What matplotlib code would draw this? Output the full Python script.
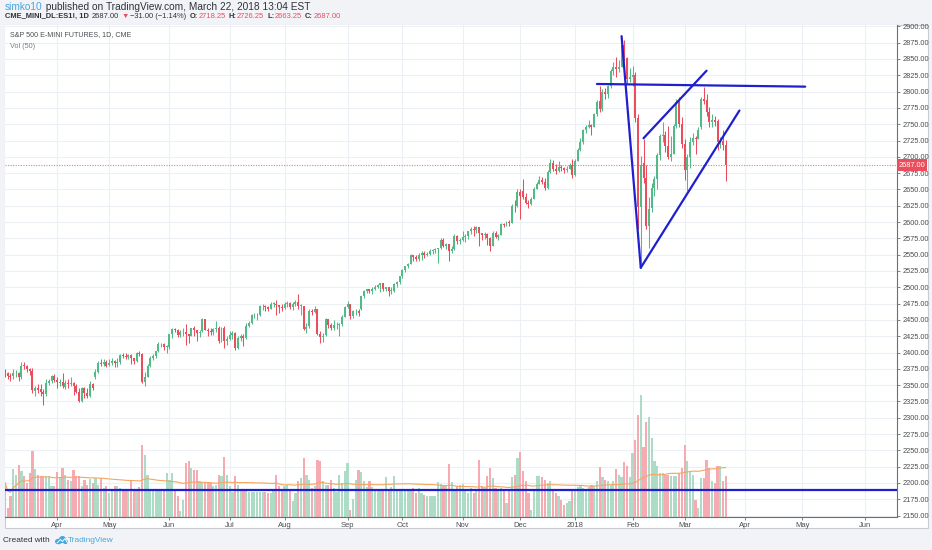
import numpy as np
import pandas as pd
import matplotlib
matplotlib.use("Agg")
import matplotlib.pyplot as plt
import matplotlib.transforms as mtransforms
from matplotlib.patches import Rectangle, Ellipse, Polygon

# ------------------------------------------------------------------ data
# daily bars ES1! (S&P 500 E-mini), 2017-03-06 .. 2018-03-22
opens = [
    2375, 2371, 2368, 2364, 2364, 2368, 2369, 2362, 2381, 2379, 2374, 2372, 2341, 2345, 2344, 2340, 2337, 2354, 2357, 2364,
    2358, 2354, 2355, 2347, 2353, 2351, 2353, 2348, 2340, 2326, 2345, 2338, 2334, 2352, 2362, 2370, 2384, 2383, 2385,
    2381, 2384, 2387, 2384, 2386, 2396, 2395, 2393, 2396, 2391, 2387, 2399, 2398, 2355, 2363, 2379, 2391, 2395, 2402, 2413, 2413, 2409,
    2409, 2428, 2436, 2434, 2427, 2431, 2432, 2429, 2426, 2437, 2435, 2430, 2433, 2451, 2435, 2433, 2432, 2436, 2437, 2418, 2438, 2417,
    2421, 2427, 2430, 2407, 2423, 2425, 2423, 2441, 2445, 2457, 2457, 2458, 2471, 2471, 2470, 2467, 2475, 2475, 2473, 2470,
    2468, 2474, 2476, 2470, 2474, 2478, 2472, 2472, 2436, 2440, 2464, 2462, 2466, 2428, 2424, 2427, 2451, 2442, 2437, 2442, 2442, 2444, 2455,
    2470, 2474, 2456, 2463, 2463, 2466, 2486, 2495, 2497, 2494, 2498, 2501, 2504, 2506, 2498, 2500, 2495, 2495, 2505, 2508,
    2517, 2527, 2532, 2535, 2550, 2547, 2543, 2549, 2553, 2549, 2551, 2556, 2557, 2559, 2560, 2573, 2563, 2567, 2555, 2558, 2579, 2571,
    2573, 2577, 2578, 2586, 2589, 2588, 2592, 2583, 2580, 2582, 2576, 2563, 2584, 2577, 2580, 2597, 2595, 2600, 2599, 2625, 2624,
    2646, 2648, 2638, 2629, 2628, 2636, 2651, 2659, 2664, 2662, 2652, 2676, 2690, 2681, 2679, 2684, 2683, 2680, 2682, 2688,
    2672, 2694, 2711, 2722, 2741, 2746, 2749, 2746, 2765, 2786, 2774, 2800, 2796, 2808, 2831, 2837, 2835, 2837, 2871, 2851, 2820,
    2822, 2826, 2759, 2623, 2690, 2667, 2594, 2622, 2652, 2666, 2703, 2732, 2733, 2716, 2700, 2705, 2748, 2784, 2750,
    2720, 2680, 2700, 2722, 2729, 2727, 2745, 2789, 2787, 2769, 2754, 2756, 2755, 2721, 2725, 2718.25,
]
highs = [
    2380, 2374, 2370, 2368, 2374, 2373, 2370, 2385, 2386, 2381, 2376, 2377, 2348, 2352, 2352, 2344, 2360, 2360, 2366, 2367,
    2362, 2359, 2369, 2358, 2359, 2362, 2355, 2351, 2345, 2347, 2347, 2346, 2356, 2354, 2374, 2387, 2390, 2390, 2389,
    2390, 2391, 2389, 2391, 2398, 2400, 2399, 2398, 2397, 2392, 2401, 2402, 2399, 2370, 2383, 2394, 2398, 2403, 2416, 2415, 2414, 2411,
    2429, 2438, 2438, 2436, 2435, 2437, 2444, 2429, 2438, 2440, 2431, 2434, 2453, 2452, 2438, 2437, 2438, 2448, 2440, 2439, 2440, 2425,
    2433, 2433, 2431, 2426, 2429, 2428, 2446, 2448, 2459, 2461, 2460, 2473, 2475, 2473, 2472, 2478, 2477, 2481, 2473, 2474,
    2477, 2479, 2477, 2477, 2480, 2489, 2475, 2472, 2445, 2467, 2467, 2472, 2467, 2433, 2430, 2453, 2450, 2446, 2450, 2447, 2446, 2458, 2472,
    2479, 2475, 2465, 2467, 2466, 2487, 2496, 2498, 2498, 2500, 2504, 2505, 2507, 2506, 2501, 2500, 2500, 2507, 2509, 2518,
    2528, 2533, 2537, 2551, 2550, 2549, 2553, 2555, 2555, 2554, 2558, 2559, 2561, 2561, 2575, 2576, 2568, 2567, 2564, 2582, 2580, 2575,
    2586, 2582, 2587, 2592, 2594, 2594, 2593, 2584, 2585, 2583, 2577, 2587, 2586, 2582, 2599, 2599, 2602, 2603, 2628, 2634, 2651,
    2651, 2666, 2645, 2634, 2639, 2653, 2661, 2670, 2669, 2668, 2680, 2697, 2695, 2689, 2693, 2688, 2684, 2686, 2690, 2696,
    2697, 2714, 2729, 2743, 2749, 2757, 2750, 2767, 2787, 2808, 2804, 2805, 2810, 2834, 2845, 2853, 2848, 2874, 2879, 2853, 2836,
    2839, 2830, 2766, 2702, 2728, 2687, 2638, 2660, 2670, 2706, 2735, 2754, 2740, 2747, 2732, 2750, 2789, 2791, 2761,
    2727, 2705, 2730, 2737, 2732, 2745, 2792, 2807, 2796, 2776, 2766, 2762, 2758, 2731, 2741, 2726.25,
]
lows = [
    2366, 2363, 2360, 2356, 2360, 2363, 2357, 2360, 2374, 2370, 2366, 2338, 2334, 2338, 2333, 2319, 2334, 2350, 2354, 2355,
    2346, 2348, 2345, 2344, 2345, 2349, 2335, 2338, 2324, 2324, 2331, 2330, 2332, 2342, 2359, 2369, 2380, 2379, 2378,
    2380, 2381, 2378, 2378, 2383, 2391, 2390, 2390, 2383, 2383, 2386, 2394, 2354, 2348, 2362, 2378, 2389, 2392, 2401, 2408, 2404, 2399,
    2406, 2423, 2431, 2424, 2424, 2426, 2412, 2414, 2425, 2425, 2418, 2424, 2431, 2434, 2426, 2427, 2427, 2432, 2414, 2416, 2407, 2411,
    2419, 2421, 2404, 2405, 2418, 2410, 2421, 2439, 2443, 2453, 2450, 2456, 2465, 2464, 2463, 2466, 2470, 2457, 2461, 2464,
    2466, 2470, 2467, 2465, 2472, 2466, 2458, 2434, 2430, 2438, 2457, 2460, 2427, 2415, 2416, 2426, 2438, 2434, 2434, 2436, 2425, 2441, 2454,
    2468, 2452, 2453, 2457, 2456, 2465, 2483, 2492, 2491, 2490, 2496, 2499, 2493, 2495, 2494, 2487, 2490, 2493, 2500, 2505,
    2515, 2524, 2530, 2535, 2540, 2541, 2541, 2542, 2545, 2548, 2550, 2551, 2553, 2537, 2558, 2562, 2558, 2541, 2553, 2557, 2567, 2567,
    2571, 2569, 2574, 2581, 2579, 2584, 2564, 2572, 2574, 2565, 2555, 2563, 2576, 2573, 2580, 2592, 2594, 2594, 2599, 2616, 2623,
    2604, 2636, 2627, 2622, 2626, 2635, 2650, 2658, 2659, 2649, 2650, 2675, 2678, 2673, 2677, 2678, 2675, 2677, 2681, 2668,
    2670, 2693, 2709, 2720, 2737, 2744, 2734, 2746, 2763, 2768, 2770, 2789, 2790, 2805, 2826, 2823, 2830, 2837, 2847, 2813, 2814,
    2808, 2754, 2590, 2532, 2660, 2590, 2560, 2615, 2640, 2650, 2695, 2722, 2707, 2697, 2694, 2705, 2744, 2745, 2713,
    2665, 2648, 2683, 2718, 2705, 2727, 2742, 2781, 2762, 2745, 2745, 2748, 2710, 2713, 2711, 2663.25,
]
closes = [
    2372, 2368, 2364, 2363, 2368, 2369, 2362, 2380, 2379, 2374, 2372, 2342, 2345, 2343, 2340, 2337, 2354, 2357, 2364, 2358,
    2355, 2355, 2348, 2353, 2351, 2353, 2349, 2340, 2325, 2345, 2338, 2334, 2352, 2345, 2370, 2384, 2383, 2385, 2380,
    2384, 2387, 2384, 2386, 2396, 2395, 2393, 2396, 2391, 2387, 2399, 2398, 2355, 2363, 2379, 2391, 2395, 2402, 2413, 2413, 2409, 2409,
    2428, 2436, 2434, 2427, 2431, 2432, 2429, 2426, 2437, 2435, 2430, 2431, 2451, 2435, 2433, 2432, 2436, 2437, 2417, 2438, 2417, 2421,
    2427, 2430, 2407, 2423, 2425, 2423, 2441, 2445, 2457, 2457, 2458, 2471, 2471, 2470, 2467, 2475, 2475, 2473, 2470, 2468,
    2474, 2476, 2470, 2474, 2478, 2472, 2472, 2436, 2439, 2464, 2462, 2466, 2428, 2424, 2426, 2451, 2442, 2437, 2442, 2442, 2444, 2455, 2470,
    2475, 2456, 2463, 2463, 2460, 2486, 2495, 2497, 2494, 2498, 2501, 2504, 2506, 2498, 2500, 2495, 2495, 2505, 2508, 2517,
    2527, 2532, 2535, 2550, 2547, 2543, 2549, 2553, 2549, 2551, 2556, 2557, 2559, 2560, 2573, 2563, 2567, 2555, 2558, 2579, 2571, 2573,
    2577, 2578, 2586, 2589, 2588, 2592, 2583, 2580, 2582, 2576, 2563, 2584, 2577, 2580, 2597, 2595, 2600, 2599, 2625, 2624, 2646,
    2640, 2638, 2629, 2628, 2636, 2651, 2659, 2664, 2662, 2652, 2676, 2690, 2681, 2679, 2684, 2683, 2680, 2682, 2688, 2672,
    2694, 2711, 2722, 2741, 2746, 2749, 2746, 2765, 2784, 2774, 2800, 2796, 2808, 2831, 2837, 2835, 2837, 2871, 2851, 2820, 2822,
    2826, 2759, 2623, 2688, 2667, 2594, 2620, 2652, 2666, 2703, 2732, 2733, 2716, 2700, 2705, 2748, 2784, 2750, 2720,
    2680, 2700, 2722, 2729, 2727, 2741, 2789, 2786, 2769, 2754, 2756, 2754, 2722, 2725, 2718, 2687.00,
]
# volume (arbitrary units, ~45k contracts per unit)
volumes = [
    36, 34, 9, 21, 48, 42, 52, 46, 41, 34, 44, 66, 48, 42, 41, 41, 41, 41, 31, 31,
    45, 39, 49, 42, 37, 36, 47, 41, 41, 31, 37, 32, 38, 34, 39, 32, 39, 29, 31,
    24, 26, 31, 31, 29, 26, 27, 28, 36, 28, 27, 30, 72, 62, 42, 27, 27, 27, 27, 27, 26, 44,
    37, 44, 27, 21, 6, 17, 54, 56, 49, 47, 47, 36, 34, 34, 34, 34, 31, 32, 42, 41, 60, 42,
    31, 25, 41, 32, 27, 27, 27, 25, 25, 25, 25, 25, 25, 25, 24, 24, 27, 42, 31, 27,
    31, 32, 27, 16, 24, 36, 39, 59, 42, 37, 29, 31, 57, 56, 36, 32, 32, 37, 29, 25, 42, 34, 46,
    54, 7, 18, 37, 47, 45, 36, 30, 36, 30, 27, 27, 27, 27, 40, 28, 30, 41, 27, 27,
    27, 26, 26, 26, 29, 24, 29, 24, 22, 21, 21, 21, 21, 35, 33, 32, 31, 53, 35, 27, 31, 32,
    33, 27, 24, 29, 24, 28, 57, 31, 29, 41, 49, 39, 29, 27, 29, 27, 14, 26, 40, 42, 59,
    65, 46, 36, 24, 7, 27, 41, 41, 40, 37, 34, 36, 26, 24, 21, 17, 12, 14, 16, 27,
    27, 30, 31, 29, 28, 30, 32, 31, 36, 50, 40, 37, 36, 32, 36, 48, 42, 40, 55, 51, 40,
    64, 77, 102, 122, 70, 95, 100, 79, 56, 51, 44, 44, 42, 42, 41, 41, 41, 44, 49,
    72, 56, 46, 42, 17, 9, 39, 39, 57, 49, 36, 34, 51, 51, 36, 41,
]
first_date = "2017-03-06"
last_date = "2018-03-22"
future_end = "2018-07-06"
holidays = ["2017-04-14", "2017-05-29", "2017-07-04", "2017-09-04", "2017-11-23",
            "2017-12-25", "2018-01-01", "2018-01-15", "2018-02-19"]

price_ticks = list(range(2150, 2901, 25))
price_min, price_max = 2147.4, 2902.1
bar_min, bar_max = 1.0, 326.5
last_price = 2687.00
vol_ma_len = 50

# user drawings: (start date, start price, end date, end price)
trend_lines = [
    ("2018-01-26", 2885.0, "2018-02-06", 2530.0),
    ("2018-02-06", 2530.0, "2018-03-29", 2771.0),
    ("2018-02-07", 2728.5, "2018-03-13", 2832.0),
    ("2018-01-12", 2811.7, "2018-05-02", 2807.6),
]
horizontal_level = 2189.4

header1_user = "simko10"
header1_rest = " published on TradingView.com, March 22, 2018 13:04 EST"
symbol_txt = "CME_MINI_DL:ES1!, 1D"
last_txt = "2687.00"
change_txt = "\u221231.00 (\u22121.14%)"
ohlc_txt = [("O:", "2718.25"), ("H:", "2726.25"), ("L:", "2663.25"), ("C:", "2687.00")]
title_txt = "S&P 500 E-MINI FUTURES, 1D, CME"
vol_txt = "Vol (50)"

# ------------------------------------------------------------------ style
W, H = 932, 550
UP, DN = "#53b987", "#eb4d5c"
VUP, VDN = "#acdcc5", "#f6abb3"
BLUE = "#1f1fd0"
MA_COL = "#f5a560"
GRID = "#eceff3"
BG = "#f1f3f7"
FONT = ["Liberation Sans", "DejaVu Sans"]
plt.rcParams["font.family"] = FONT

o = np.array(opens, float); h = np.array(highs, float)
l = np.array(lows, float); c = np.array(closes, float)
vol = np.array(volumes, float)
assert len(o) == len(h) == len(l) == len(c) == len(vol)

past = pd.bdate_range(first_date, last_date)
past = past[~past.isin(pd.to_datetime(holidays))]
assert len(past) == len(c), (len(past), len(c))
future = pd.bdate_range(pd.Timestamp(last_date) + pd.Timedelta(days=1), future_end)
dates = past.append(future)
pos = {d: i for i, d in enumerate(dates)}

fig = plt.figure(figsize=(W / 100, H / 100), dpi=100, facecolor=BG)

def fx(px):
    return px / W

def fy(py):
    return 1 - py / H

# chart widget frame
fig.add_artist(Rectangle((fx(4.5), fy(528)), fx(927.5) - fx(4.5), fy(25) - fy(528),
                         transform=fig.transFigure, facecolor="white",
                         edgecolor="#c9cdd3", lw=0.8, zorder=0))

ax = fig.add_axes([fx(5), fy(517.3), fx(897) - fx(5), fy(25) - fy(517.3)])
ax.set_facecolor("white")
ax.set_zorder(1)
x = np.arange(len(c))

# grid
ax.set_axisbelow(True)
ax.grid(True, color=GRID, lw=0.8)

# volume (overlay, scaled so that max bar fills ~25% of pane)
vol_top = vol.max() / 0.248
vol_trans = mtransforms.blended_transform_factory(
    ax.transData, mtransforms.Affine2D().scale(1, 1 / vol_top) + ax.transAxes)
up = c >= o
ax.bar(x, vol, width=0.8, bottom=0, color=np.where(up, VUP, VDN), lw=0,
       transform=vol_trans, zorder=1)
vol_ma = pd.Series(vol).rolling(vol_ma_len, min_periods=1).mean().values
ax.plot(x, vol_ma, color=MA_COL, lw=0.8, transform=vol_trans, zorder=1.5)

# last price line
ax.axhline(last_price, color=DN, lw=0.8, ls=(0, (1, 1.3)), alpha=0.75, zorder=1.6)

# candles
cols = np.where(up, UP, DN)
ax.vlines(x, l, h, colors=cols, lw=0.75, zorder=3)
ax.bar(x, np.maximum(np.abs(c - o), 0.8), bottom=np.minimum(o, c), width=0.72,
       color=cols, lw=0, zorder=3.1)

# drawings
for d1, p1, d2, p2 in trend_lines:
    ax.plot([pos[pd.Timestamp(d1)], pos[pd.Timestamp(d2)]], [p1, p2],
            color=BLUE, lw=1.6, solid_capstyle="round", zorder=4)
ax.axhline(horizontal_level, color=BLUE, lw=1.6, zorder=4)

# axes / ticks
for s in ("top", "left"):
    ax.spines[s].set_visible(False)
for s in ("right", "bottom"):
    ax.spines[s].set_color("#6b6f76")
    ax.spines[s].set_linewidth(0.8)
ax.yaxis.tick_right()
ax.set_yticks(price_ticks)
ax.set_yticklabels([f"{v:.2f}" for v in price_ticks])
ax.tick_params(axis="y", labelsize=5.3, colors="#6b6f76", labelcolor="#4a4d52",
               length=2.5, width=0.6, pad=1.5)

month_pos, month_lab = [], []
prev = None
for i, d in enumerate(dates):
    key = (d.year, d.month)
    if key != prev:
        prev = key
        if bar_min <= i <= bar_max:
            month_pos.append(i)
            month_lab.append(str(d.year) if d.month == 1 else d.strftime("%b"))
ax.set_xticks(month_pos)
ax.set_xticklabels(month_lab)
ax.tick_params(axis="x", labelsize=5.5, colors="#6b6f76", labelcolor="#4a4d52",
               length=2, width=0.6, pad=1.5)

ax.set_xlim(bar_min, bar_max)
ax.set_ylim(price_min, price_max)

# last price label on the price scale
lbl_trans = mtransforms.blended_transform_factory(ax.transAxes, ax.transData)
box_w = (927 - 897) / (897 - 5)
box_h = 12 / ((517.3 - 25) / (price_max - price_min))
ax.add_patch(Rectangle((1.0, last_price - box_h / 2), box_w, box_h, transform=lbl_trans,
                       facecolor=DN, edgecolor="none", clip_on=False, zorder=9))
ax.text(1.0 + box_w / 2, last_price, f"{last_price:.2f}", transform=lbl_trans,
        ha="center", va="center", fontsize=5.3, color="white", clip_on=False, zorder=10)

# ------------------------------------------------------------------ texts
renderer = fig.canvas.get_renderer()

def segments(x0, ypx, parts, size, draw=True):
    xcur = x0
    made = []
    for txt, col, wt, gap in parts:
        t = fig.text(fx(xcur), fy(ypx), txt, color=col, fontsize=size, fontweight=wt,
                     ha="left", va="center")
        bb = t.get_window_extent(renderer)
        xcur = bb.x1 + gap
        made.append(t)
    if not draw:
        for t in made:
            t.remove()
    return xcur

def fitted(x0, ypx, parts, target_right, base=7.0):
    end = segments(x0, ypx, parts, base, draw=False)
    size = base * (target_right - x0) / (end - x0)
    segments(x0, ypx, parts, size)

DARK = "#2f3237"
LBLUE = "#47a6db"
fitted(5, 6.8, [(header1_user, LBLUE, "normal", 0), (header1_rest, DARK, "normal", 0)], 308)

parts2 = [(symbol_txt, DARK, "bold", 3), (last_txt, DARK, "normal", 2),
          ("\u25bc", DN, "normal", 2), (change_txt, DARK, "normal", 3)]
for k, v in ohlc_txt:
    parts2.append((k, DARK, "bold", 0.5))
    parts2.append((v, DN, "normal", 3))
fitted(5, 16.8, parts2, 334)

fitted(10, 35.0, [(title_txt, "#4a4d52", "normal", 0)], 131)
fitted(10, 46.5, [(vol_txt, "#7a7e85", "normal", 0)], 35)

fitted(3, 540.5, [("Created with", "#2f3237", "normal", 0)], 49)
fitted(68, 540.5, [("TradingView", LBLUE, "normal", 0)], 113)

# TradingView logo (small cloud)
for cx, cy, w_, h_ in [(58.5, 541.5, 7, 5.5), (62.5, 539.5, 7, 7), (65.5, 541.8, 5, 4.5)]:
    fig.add_artist(Ellipse((fx(cx), fy(cy)), fx(w_), h_ / H, transform=fig.transFigure,
                           facecolor=LBLUE, edgecolor="none", zorder=5))
fig.add_artist(Polygon([(fx(57), fy(543)), (fx(60.5), fy(539.5)), (fx(62.5), fy(541.5)),
                        (fx(65), fy(538.5)), (fx(67.5), fy(543))], closed=False,
                       transform=fig.transFigure, fill=False, edgecolor="white", lw=0.7, zorder=6))

fig.savefig("out.png", dpi=100, facecolor=BG)
